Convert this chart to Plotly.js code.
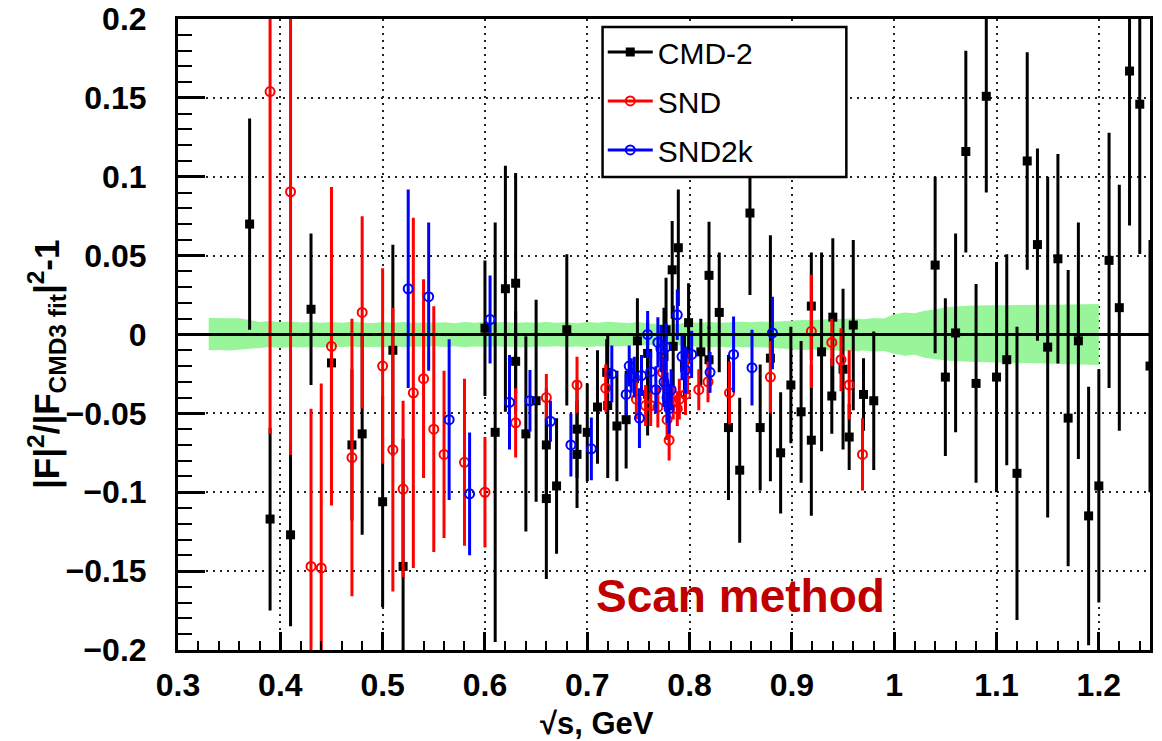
<!DOCTYPE html>
<html>
<head>
<meta charset="utf-8">
<script src="https://cdn.plot.ly/plotly-3.0.1.min.js"></script>
<style>html,body{margin:0;padding:0;background:#fff;}#chart{width:1162px;height:741px;}</style>
</head>
<body>
<div id="chart"></div>
<script>
// ---------- data ----------
const cmd2X = [0.37,0.39,0.41,0.43,0.45,0.47,0.48,0.50,0.51,0.52,0.60,0.61,0.62,0.63,0.63,0.64,0.65,0.66,0.66,0.67,0.68,0.69,0.69,0.70,0.71,0.719,0.72,0.729,0.738,0.749,0.759,0.759,0.775,0.777,0.783,0.784,0.789,0.795,0.799,0.811,0.819,0.819,0.829,0.838,0.849,0.859,0.869,0.879,0.889,0.899,0.909,0.919,0.919,0.929,0.939,0.94,0.95,0.956,0.96,0.97,0.98,1.04,1.05,1.06,1.07,1.08,1.09,1.10,1.11,1.12,1.13,1.14,1.15,1.16,1.17,1.18,1.19,1.20,1.21,1.22,1.23,1.24,1.25];
const cmd2Y = [0.070,-0.117,-0.127,0.016,-0.018,-0.070,-0.063,-0.106,-0.010,-0.147,0.004,-0.062,0.029,0.0325,-0.017,-0.063,-0.042,-0.070,-0.104,-0.096,0.003,-0.060,-0.076,-0.062,-0.046,-0.024,-0.045,-0.058,-0.054,-0.004,-0.012,-0.038,-0.014,0.003,0.041,-0.0075,0.055,-0.020,0.0075,-0.011,0.0375,-0.016,0.014,-0.059,-0.086,0.077,-0.059,-0.015,-0.075,-0.032,-0.049,0.018,-0.067,-0.011,-0.039,0.011,-0.022,-0.065,0.006,-0.038,-0.042,0.044,-0.027,0.001,0.116,-0.031,0.151,-0.027,-0.016,-0.088,0.110,0.057,-0.008,0.048,-0.053,-0.004,-0.115,-0.096,0.047,0.017,0.167,0.146,-0.020];
const cmd2Err = [0.066,0.057,0.057,0.047,0.054,0.047,0.063,0.066,0.066,0.080,0.042,0.132,0.077,0.069,0.031,0.061,0.063,0.035,0.050,0.042,0.047,0.030,0.033,0.030,0.035,0.020,0.045,0.034,0.030,0.026,0.020,0.025,0.030,0.032,0.030,0.025,0.036,0.020,0.024,0.020,0.033,0.020,0.037,0.045,0.045,0.051,0.039,0.077,0.0375,0.036,0.044,0.033,0.047,0.062,0.023,0.049,0.050,0.020,0.053,0.022,0.043,0.055,0.049,0.062,0.063,0.062,0.060,0.072,0.066,0.092,0.068,0.060,0.107,0.0655,0.093,0.074,0.081,0.073,0.080,0.077,0.097,0.094,0.079];

const sndX = [0.39,0.41,0.43,0.44,0.45,0.47,0.48,0.50,0.51,0.52,0.53,0.54,0.55,0.56,0.58,0.60,0.63,0.66,0.69,0.718,0.748,0.757,0.762,0.769,0.7735,0.778,0.780,0.784,0.788,0.790,0.796,0.798,0.809,0.818,0.839,0.879,0.919,0.939,0.948,0.956,0.969];
const sndY = [0.154,0.0905,-0.147,-0.148,-0.0075,-0.078,0.014,-0.020,-0.073,-0.098,-0.037,-0.028,-0.060,-0.076,-0.081,-0.100,-0.056,-0.040,-0.032,-0.034,-0.041,-0.045,-0.045,-0.046,-0.024,-0.054,-0.067,-0.043,-0.047,-0.041,-0.038,-0.025,-0.035,-0.030,-0.037,-0.027,0.002,-0.005,-0.016,-0.032,-0.076];
const sndErr = [0.216,0.166,0.099,0.116,0.100,0.087,0.060,0.061,0.089,0.055,0.110,0.062,0.077,0.052,0.052,0.034,0.021,0.014,0.017,0.014,0.012,0.012,0.012,0.012,0.010,0.012,0.012,0.010,0.010,0.012,0.012,0.012,0.012,0.012,0.019,0.022,0.035,0.014,0.019,0.021,0.022];

const snd2kX = [0.525,0.545,0.565,0.585,0.605,0.624,0.644,0.664,0.684,0.704,0.724,0.738,0.741,0.743,0.746,0.751,0.753,0.759,0.762,0.767,0.769,0.772,0.775,0.777,0.778,0.780,0.782,0.788,0.7926,0.796,0.802,0.820,0.843,0.861,0.881];
const snd2kY = [0.029,0.024,-0.054,-0.101,0.0095,-0.043,-0.042,-0.055,-0.070,-0.0725,-0.025,-0.038,-0.020,-0.026,-0.027,-0.053,-0.026,0.000,-0.0236,-0.035,-0.005,-0.009,-0.030,-0.008,-0.040,-0.047,-0.035,0.0125,-0.014,-0.0225,-0.0126,-0.024,-0.0126,-0.021,0.001];
const snd2kErr = [0.062,0.046,0.050,0.038,0.027,0.029,0.0185,0.012,0.019,0.019,0.017,0.012,0.012,0.010,0.012,0.018,0.012,0.014,0.012,0.014,0.015,0.014,0.015,0.014,0.015,0.015,0.012,0.015,0.014,0.014,0.014,0.012,0.023,0.023,0.022];

// CMD3 fit uncertainty band
const bandX = [0.33,0.34,0.35,0.36,0.37,0.38,0.39,0.40,0.41,0.42,0.43,0.44,0.45,0.46,0.47,0.48,0.49,0.50,0.51,0.52,0.53,0.54,0.55,0.56,0.57,0.58,0.59,0.60,0.61,0.62,0.63,0.64,0.65,0.66,0.67,0.68,0.69,0.70,0.71,0.72,0.73,0.74,0.75,0.76,0.77,0.78,0.79,0.80,0.81,0.82,0.83,0.84,0.85,0.86,0.87,0.88,0.89,0.90,0.91,0.92,0.93,0.94,0.95,0.96,0.97,0.98,0.99,1.00,1.01,1.02,1.03,1.04,1.05,1.06,1.07,1.08,1.09,1.10,1.11,1.12,1.13,1.14,1.15,1.16,1.17,1.18,1.19,1.20];
const bandHi = [0.0105,0.0104,0.0100,0.0103,0.0092,0.0080,0.0085,0.0078,0.0082,0.0076,0.0080,0.0074,0.0079,0.0075,0.0081,0.0076,0.0072,0.0079,0.0074,0.0080,0.0073,0.0077,0.0075,0.0078,0.0072,0.0080,0.0074,0.0081,0.0076,0.0079,0.0073,0.0078,0.0075,0.0080,0.0074,0.0077,0.0072,0.0079,0.0075,0.0081,0.0076,0.0073,0.0079,0.0070,0.0066,0.0064,0.0068,0.0078,0.0074,0.0080,0.0075,0.0079,0.0081,0.0077,0.0082,0.0079,0.0084,0.0088,0.0092,0.0090,0.0095,0.0100,0.0098,0.0103,0.0097,0.0104,0.0101,0.0128,0.0140,0.0135,0.0150,0.0158,0.0172,0.0178,0.0182,0.0184,0.0183,0.0185,0.0186,0.0185,0.0187,0.0188,0.0187,0.0189,0.0190,0.0191,0.0192,0.0194];
const bandLo = [-0.0100,-0.0098,-0.0102,-0.0096,-0.0094,-0.0085,-0.0080,-0.0086,-0.0079,-0.0083,-0.0077,-0.0082,-0.0078,-0.0080,-0.0076,-0.0082,-0.0077,-0.0081,-0.0075,-0.0080,-0.0076,-0.0079,-0.0074,-0.0079,-0.0075,-0.0081,-0.0076,-0.0080,-0.0074,-0.0079,-0.0077,-0.0082,-0.0076,-0.0078,-0.0075,-0.0080,-0.0076,-0.0079,-0.0074,-0.0078,-0.0075,-0.0073,-0.0070,-0.0068,-0.0065,-0.0066,-0.0070,-0.0076,-0.0079,-0.0081,-0.0077,-0.0082,-0.0080,-0.0083,-0.0081,-0.0086,-0.0088,-0.0092,-0.0098,-0.0095,-0.0101,-0.0099,-0.0104,-0.0106,-0.0102,-0.0108,-0.0105,-0.0122,-0.0135,-0.0128,-0.0148,-0.0155,-0.0165,-0.0170,-0.0174,-0.0176,-0.0178,-0.0177,-0.0180,-0.0182,-0.0181,-0.0184,-0.0185,-0.0186,-0.0188,-0.0189,-0.0191,-0.0193];

const seriesNames = ['CMD-2','SND','SND2k'];
const xTitle = '\u221As, GeV';
const yTitle = '|F|<sup>2</sup>/|F<sub>CMD3 fit</sub>|<sup>2</sup>-1';
const noteText = 'Scan method';

// ---------- traces ----------
const band = {
  x: bandX.concat(bandX.slice().reverse()),
  y: bandHi.concat(bandLo.slice().reverse()),
  type: 'scatter', mode: 'lines', fill: 'toself',
  fillcolor: '#99f599', line: {width: 0, color: '#99f599'},
  hoverinfo: 'skip', showlegend: false
};

function series(x, y, err, color, symbol, lw) {
  return {
    x: x, y: y, type: 'scatter', mode: 'markers', showlegend: false,
    marker: {symbol: symbol, size: 9, color: color, line: {color: color, width: lw}},
    error_y: {type: 'data', array: err, visible: true, color: color, thickness: 3, width: 1.5}
  };
}
function legendEntry(name, color, symbol, lw) {
  return {
    x: [null], y: [null], type: 'scatter', mode: 'lines+markers', name: name,
    legendgroup: name,
    line: {color: color, width: 3},
    marker: {symbol: symbol, size: 9, color: color, line: {color: color, width: lw}}
  };
}

const data = [
  band,
  series(cmd2X, cmd2Y, cmd2Err, '#000000', 'square', 0),
  series(sndX, sndY, sndErr, '#ff0000', 'circle-open', 2),
  series(snd2kX, snd2kY, snd2kErr, '#0000ff', 'circle-open', 2),
  legendEntry(seriesNames[0], '#000000', 'square', 0),
  legendEntry(seriesNames[1], '#ff0000', 'circle-open', 2),
  legendEntry(seriesNames[2], '#0000ff', 'circle-open', 2)
];

const tickFont = {family: 'Liberation Sans, Arial, sans-serif', size: 32, color: '#000', weight: 'bold'};

const layout = {
  width: 1162, height: 741,
  margin: {l: 178, r: 12, t: 19, b: 91},
  paper_bgcolor: '#fff', plot_bgcolor: '#fff',
  showlegend: true,
  xaxis: {
    range: [0.3, 1.25], dtick: 0.1, tick0: 0.3,
    showline: true, linecolor: '#000', linewidth: 3, mirror: true,
    ticks: 'inside', ticklen: 18, tickwidth: 3, tickcolor: '#000',
    minor: {dtick: 0.02, ticks: 'inside', ticklen: 9, tickwidth: 2, tickcolor: '#000', showgrid: false},
    showgrid: true, gridcolor: '#222', gridwidth: 2, griddash: '2px,5px',
    zeroline: false, tickfont: tickFont, ticklabelstandoff: 5
  },
  yaxis: {
    range: [-0.2, 0.2], dtick: 0.05, tick0: 0,
    showline: true, linecolor: '#000', linewidth: 3, mirror: true,
    ticks: 'inside', ticklen: 27, tickwidth: 3, tickcolor: '#000',
    minor: {dtick: 0.01, ticks: 'inside', ticklen: 14, tickwidth: 2, tickcolor: '#000', showgrid: false},
    showgrid: true, gridcolor: '#222', gridwidth: 2, griddash: '2px,5px',
    zeroline: false, tickfont: tickFont, ticklabelstandoff: 22
  },
  legend: {
    x: 0.437, y: 0.989, xanchor: 'left', yanchor: 'top',
    bgcolor: 'rgba(0,0,0,0)', borderwidth: 0,
    font: {family: 'Liberation Sans, Arial, sans-serif', size: 30, color: '#000'},
    itemwidth: 45, tracegroupgap: 7, traceorder: 'grouped'
  },
  shapes: [
    {type: 'line', xref: 'paper', x0: 0, x1: 1, yref: 'y', y0: 0, y1: 0,
     line: {color: '#000', width: 3}, layer: 'above'},
    {type: 'rect', xref: 'paper', yref: 'paper', x0: 0.4368, x1: 0.6876, y0: 0.7496, y1: 0.9873,
     fillcolor: '#fff', line: {color: '#000', width: 2.5}, layer: 'above'}
  ],
  annotations: [
    {text: noteText, xref: 'paper', yref: 'paper', x: 0.5786, y: 0.0856,
     xanchor: 'center', yanchor: 'middle', showarrow: false,
     font: {family: 'Liberation Sans, Arial, sans-serif', size: 46, color: '#c00000', weight: 'bold'}},
    {text: xTitle, xref: 'paper', yref: 'paper', x: 0.431, y: -0.117,
     xanchor: 'center', yanchor: 'middle', showarrow: false,
     font: {family: 'Liberation Sans, Arial, sans-serif', size: 31, color: '#000', weight: 'bold'}},
    {text: yTitle, xref: 'paper', yref: 'paper', x: -0.1346, y: 0.452, textangle: -90,
     xanchor: 'center', yanchor: 'middle', showarrow: false,
     font: {family: 'Liberation Sans, Arial, sans-serif', size: 35, color: '#000', weight: 'bold'}}
  ]
};

Plotly.newPlot('chart', data, layout, {displayModeBar: false, staticPlot: true});
</script>
</body>
</html>
